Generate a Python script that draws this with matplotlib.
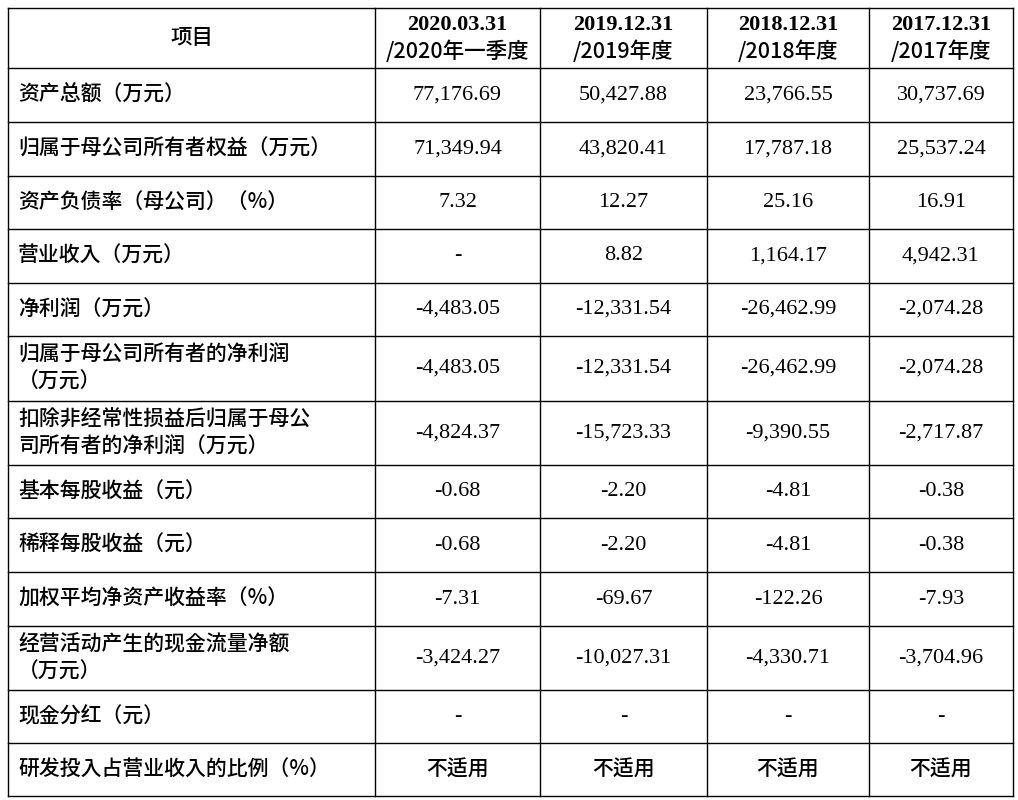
import matplotlib
matplotlib.use("Agg")
import matplotlib.pyplot as plt
from matplotlib import font_manager as fm

headers = ["项目", "2020.03.31\n/2020年一季度", "2019.12.31\n/2019年度", "2018.12.31\n/2018年度", "2017.12.31\n/2017年度"]
items = ["资产总额（万元）", "归属于母公司所有者权益（万元）", "资产负债率（母公司）（%）", "营业收入（万元）",
         "净利润（万元）", "归属于母公司所有者的净利润\n（万元）", "扣除非经常性损益后归属于母公\n司所有者的净利润（万元）",
         "基本每股收益（元）", "稀释每股收益（元）", "加权平均净资产收益率（%）",
         "经营活动产生的现金流量净额\n（万元）", "现金分红（元）", "研发投入占营业收入的比例（%）"]
v2020 = ["77,176.69", "71,349.94", "7.32", "-", "-4,483.05", "-4,483.05", "-4,824.37", "-0.68", "-0.68", "-7.31", "-3,424.27", "-", "不适用"]
v2019 = ["50,427.88", "43,820.41", "12.27", "8.82", "-12,331.54", "-12,331.54", "-15,723.33", "-2.20", "-2.20", "-69.67", "-10,027.31", "-", "不适用"]
v2018 = ["23,766.55", "17,787.18", "25.16", "1,164.17", "-26,462.99", "-26,462.99", "-9,390.55", "-4.81", "-4.81", "-122.26", "-4,330.71", "-", "不适用"]
v2017 = ["30,737.69", "25,537.24", "16.91", "4,942.31", "-2,074.28", "-2,074.28", "-2,717.87", "-0.38", "-0.38", "-7.93", "-3,704.96", "-", "不适用"]

col_x = [8, 375, 540, 707, 869, 1013]
row_y = [8, 68, 122, 176, 229, 283, 336, 401, 465, 518, 572, 626, 690, 743, 796]

# locate a CJK font file
cjk_file = None
for f in fm.findSystemFonts():
    n = f.lower()
    if "notosanscjk" in n.replace("-", "").replace("_", "") or "notosanscjk" in n.replace(" ", ""):
        cjk_file = f
        if "sc" in n.split("/")[-1].lower():
            break
if cjk_file is None:
    for f in fm.findSystemFonts():
        if "cjk" in f.lower():
            cjk_file = f
            break
cjk = fm.FontProperties(fname=cjk_file, size=15) if cjk_file else fm.FontProperties(family="Noto Sans CJK SC", size=15)
cjk_b = cjk.copy(); cjk_b.set_weight("bold"); cjk_b.set_size(15.5)
serif = fm.FontProperties(family="Liberation Serif", size=16)
serif_b = fm.FontProperties(family="Liberation Serif", size=16, weight="bold")

fig = plt.figure(figsize=(10.18, 8.0), dpi=100)
ax = fig.add_axes([0, 0, 1, 1])
ax.set_xlim(0, 1018); ax.set_ylim(800, 0); ax.axis("off")

for x in col_x:
    ax.plot([x, x], [row_y[0], row_y[-1]], color="black", lw=1)
for y in row_y:
    ax.plot([col_x[0], col_x[-1]], [y, y], color="black", lw=1)

yc = (row_y[0] + row_y[1]) / 2
for i, h in enumerate(headers):
    xc = (col_x[i] + col_x[i + 1]) / 2
    if "\n" in h:
        l1, l2 = h.split("\n")
        ax.text(xc, yc - 13, l1, ha="center", va="center", fontproperties=serif_b)
        ax.text(xc, yc + 14, l2, ha="center", va="center", fontproperties=cjk_b)
    else:
        ax.text(xc, yc, h, ha="center", va="center", fontproperties=cjk_b)

cols = [v2020, v2019, v2018, v2017]
for r, item in enumerate(items):
    yc = (row_y[r + 1] + row_y[r + 2]) / 2
    ax.text(col_x[0] + 10, yc, item, ha="left", va="center", fontproperties=cjk, linespacing=1.3)
    for c, vals in enumerate(cols):
        xc = (col_x[c + 1] + col_x[c + 2]) / 2
        v = vals[r]
        fp = cjk if v == "不适用" else serif
        ax.text(xc, yc, v, ha="center", va="center", fontproperties=fp)

fig.savefig("out.png", dpi=100)
